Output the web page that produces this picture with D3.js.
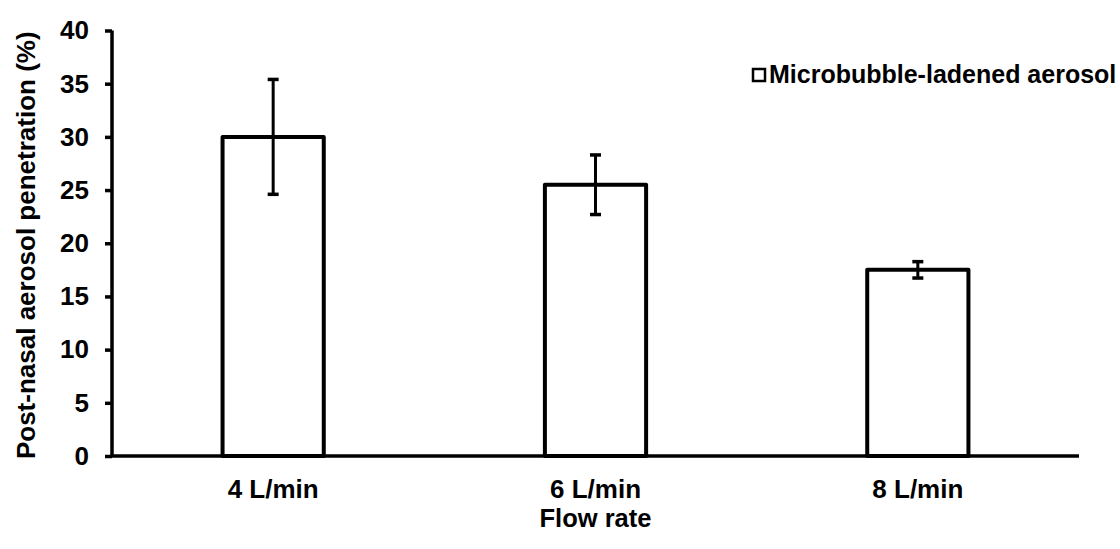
<!DOCTYPE html>
<html>
<head>
<meta charset="utf-8">
<script src="https://cdn.jsdelivr.net/npm/d3@7"></script>
<style>
  html, body { margin: 0; padding: 0; background: #fff; }
  svg { display: block; font-family: "Liberation Sans", Arial, sans-serif; font-weight: bold; }
</style>
</head>
<body>
<svg id="chart" width="1120" height="549"></svg>
<script>
// Flow-rate categories and measured penetration (mean ± error, %)
const categories = ["4 L/min", "6 L/min", "8 L/min"];
const penetration = [30.0, 25.5, 17.5];
const errors = [5.4, 2.8, 0.77];
const yTicks = [0, 5, 10, 15, 20, 25, 30, 35, 40];
const seriesName = "Microbubble-ladened aerosol";

const svg = d3.select("#chart");
const plotLeft = 112, plotRight = 1079, plotTop = 30.5, plotBottom = 456;

const x = d3.scaleBand()
  .domain(categories)
  .range([plotLeft, plotRight])
  .paddingInner(0.686)
  .paddingOuter(0.343);

const y = d3.scaleLinear().domain([0, 40]).range([plotBottom, plotTop]);

// Bars
svg.append("g").selectAll("rect")
  .data(categories)
  .join("rect")
  .attr("x", d => x(d))
  .attr("y", (d, i) => y(penetration[i]))
  .attr("width", x.bandwidth())
  .attr("height", (d, i) => y(0) - y(penetration[i]))
  .attr("fill", "#fff")
  .attr("stroke", "#000")
  .attr("stroke-width", 4)
  .attr("stroke-linejoin", "round");

// Error bars
const eb = svg.append("g").attr("stroke", "#000");
categories.forEach((c, i) => {
  const cx = x(c) + x.bandwidth() / 2;
  const hi = y(penetration[i] + errors[i]);
  const lo = y(penetration[i] - errors[i]);
  eb.append("line").attr("x1", cx).attr("x2", cx).attr("y1", hi).attr("y2", lo).attr("stroke-width", 3);
  [hi, lo].forEach(v => {
    eb.append("line").attr("x1", cx - 5.5).attr("x2", cx + 5.5).attr("y1", v).attr("y2", v).attr("stroke-width", 3.5);
  });
});

// Y axis
const yAxis = svg.append("g")
  .attr("transform", `translate(${plotLeft},0)`)
  .call(d3.axisLeft(y).tickValues(yTicks).tickSize(7).tickPadding(16).tickFormat(d3.format("d")));
yAxis.select(".domain").attr("stroke-width", 3.5).attr("d", `M0,${plotTop}V${plotBottom}`);
yAxis.selectAll(".tick line").attr("stroke-width", 3.5);
yAxis.selectAll(".tick text")
  .attr("font-size", 26).attr("font-weight", "bold")
  .attr("font-family", "Liberation Sans, Arial, sans-serif").attr("fill", "#000");

// X axis
const xAxis = svg.append("g")
  .attr("transform", `translate(0,${plotBottom})`)
  .call(d3.axisBottom(x).tickSize(0).tickPadding(24));
xAxis.select(".domain").attr("stroke-width", 3.5).attr("d", `M${plotLeft - 1.5},0H${plotRight}`);
xAxis.selectAll(".tick text")
  .attr("font-size", 26).attr("font-weight", "bold")
  .attr("font-family", "Liberation Sans, Arial, sans-serif").attr("fill", "#000");

// Axis titles
svg.append("text")
  .attr("x", (plotLeft + plotRight) / 2).attr("y", 527)
  .attr("text-anchor", "middle").attr("font-size", 25.5)
  .text("Flow rate");

svg.append("text")
  .attr("transform", `translate(35,${(plotTop + plotBottom) / 2 + 2}) rotate(-90)`)
  .attr("text-anchor", "middle").attr("font-size", 26)
  .text("Post-nasal aerosol penetration (%)");

// Legend
const lg = svg.append("g").attr("transform", "translate(752,68)");
lg.append("rect").attr("x", 1).attr("y", 1).attr("width", 12).attr("height", 12)
  .attr("fill", "#fff").attr("stroke", "#000").attr("stroke-width", 2.5);
lg.append("text").attr("x", 17).attr("y", 14.5).attr("font-size", 25).text(seriesName);
</script>
</body>
</html>
